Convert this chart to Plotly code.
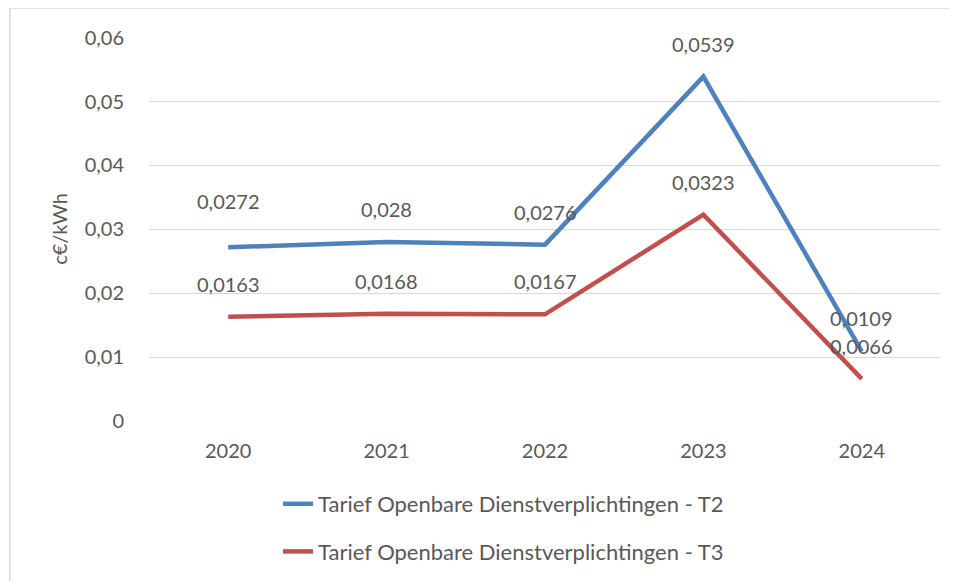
import plotly.graph_objects as go

years = ["2020", "2021", "2022", "2023", "2024"]
t2 = [0.0272, 0.028, 0.0276, 0.0539, 0.0109]
t3 = [0.0163, 0.0168, 0.0167, 0.0323, 0.0066]
name_t2 = "Tarief Openbare Dienstverplichtingen - T2"
name_t3 = "Tarief Openbare Dienstverplichtingen - T3"
y_title = "c€/kWh"

BLUE = "#4F81BD"
RED = "#C0504D"
TXT = "#595959"
GRID = "#D9D9D9"
FONT = "Lato"

OFF = 8  # page body margin
W, H = 958 - OFF, 581 - OFF
L, R, T, B = 149 - OFF, 17, 37 - OFF, 581 - 421
pw, ph = W - L - R, H - T - B

fig = go.Figure()
fig.add_trace(go.Scatter(x=years, y=t2, mode="lines", name=name_t2,
                         line=dict(color=BLUE, width=4.5), legendgroup="a"))
fig.add_trace(go.Scatter(x=years, y=t3, mode="lines", name=name_t3,
                         line=dict(color=RED, width=4.5), legendgroup="b"))

def fmt(v):
    return str(v).replace(".", ",")

ann = []
# category axis: annotations positioned by category index
for i, v in enumerate(t2):
    ann.append(dict(x=i, y=v, xref="x", yref="y", text=fmt(v), showarrow=False,
                    yshift=46 if i == 0 else 33,
                    font=dict(family=FONT, size=20, color=TXT)))
for i, v in enumerate(t3):
    ann.append(dict(x=i, y=v, xref="x", yref="y", text=fmt(v), showarrow=False, yshift=33,
                    font=dict(family=FONT, size=20, color=TXT)))

fig.update_layout(
    width=W, height=H,
    margin=dict(l=L, r=R, t=T, b=B, autoexpand=False),
    paper_bgcolor="white", plot_bgcolor="white",
    separators=",.",
    font=dict(family=FONT, size=20, color=TXT),
    showlegend=True,
    legend=dict(x=(278 - 149) / pw, xanchor="left", y=-(504 - 421 - 21) / ph, yanchor="top",
                orientation="v", tracegroupgap=16, font=dict(family=FONT, size=22, color=TXT),
                bgcolor="rgba(0,0,0,0)"),
    annotations=ann,
    shapes=[dict(type="rect", xref="paper", yref="paper",
                 x0=(10 - 149) / pw, x1=(W + 20 - L) / pw,
                 y0=-(H + 20 - T - ph) / ph, y1=1 + (37 - 8) / ph,
                 line=dict(color=GRID, width=1.5), layer="below")],
)
fig.update_xaxes(type="category", range=[-0.5, len(years) - 0.5],
                 showgrid=False, showline=False, zeroline=False,
                 ticks="outside", ticklen=12, tickcolor="rgba(0,0,0,0)",
                 tickfont=dict(family=FONT, size=20, color=TXT))
fig.update_yaxes(range=[0, 0.0601], dtick=0.01, tickformat=".2~f", showgrid=True,
                 gridcolor=GRID, gridwidth=1.2, zeroline=False, showline=False,
                 ticks="outside", ticklen=20, tickcolor="rgba(0,0,0,0)",
                 tickfont=dict(family=FONT, size=20, color=TXT),
                 title=dict(text=y_title, font=dict(family=FONT, size=20, color=TXT), standoff=11))

fig.write_html("out.html")
